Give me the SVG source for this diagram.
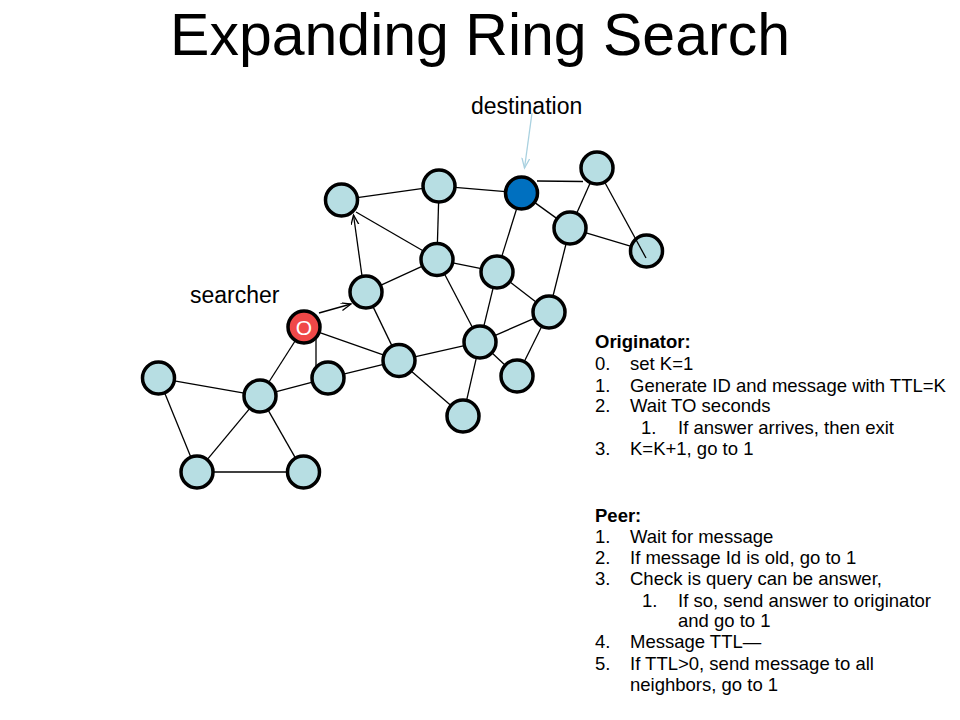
<svg xmlns="http://www.w3.org/2000/svg" width="960" height="720" viewBox="0 0 960 720">
<style>
  .node { fill: #b7dee3; stroke: #000; stroke-width: 3.5; }
  .dest { fill: #0070c0; stroke: #000; stroke-width: 3.5; }
  .src { fill: #f04848; stroke: #000; stroke-width: 3.5; }
  .edge { stroke: #000; stroke-width: 1.3; fill: none; }
  .arr { stroke: #000; stroke-width: 1.3; fill: none; marker-end: url(#open); }
  .darr { stroke: #a9d1e0; stroke-width: 1.3; fill: none; marker-end: url(#openBlue); }
  .t { font-family: "Liberation Sans", Arial, sans-serif; fill: #000; }
  .body { font-family: "Liberation Sans", Arial, sans-serif; font-size: 18.5px; fill: #000; }
  .b { font-weight: bold; }
</style>
<defs>
  <marker id="open" markerUnits="userSpaceOnUse" markerWidth="14" markerHeight="12" refX="10" refY="4" orient="auto">
    <path d="M0,0 L10,4 L0,8" fill="none" stroke="#000" stroke-width="1.3"/>
  </marker>
  <marker id="openBlue" markerUnits="userSpaceOnUse" markerWidth="14" markerHeight="12" refX="10" refY="4" orient="auto">
    <path d="M0,0 L10,4 L0,8" fill="none" stroke="#a9d1e0" stroke-width="1.3"/>
  </marker>
</defs>
<rect width="960" height="720" fill="#fff"/>

<text class="t" x="480" y="55" font-size="59" text-anchor="middle">Expanding Ring Search</text>
<text class="t" x="471" y="114" font-size="23">destination</text>
<text class="t" x="190" y="303" font-size="23">searcher</text>

<g id="nodes">
  <g id="n1"><circle class="node" cx="341.5" cy="200" r="16"/></g>
  <g id="n2"><circle class="node" cx="439" cy="186" r="16"/></g>
  <g id="n3"><circle class="dest" cx="521.5" cy="193" r="16"/></g>
  <g id="n4"><circle class="node" cx="597" cy="168" r="16"/></g>
  <g id="n5"><circle class="node" cx="570" cy="228" r="16"/></g>
  <g id="n6"><circle class="node" cx="646.5" cy="251" r="16"/></g>
  <g id="n7"><circle class="node" cx="437" cy="259.5" r="16"/></g>
  <g id="n8"><circle class="node" cx="497" cy="272" r="16"/></g>
  <g id="n9"><circle class="node" cx="366" cy="292" r="16"/></g>
  <g id="n10"><circle class="src" cx="304" cy="327" r="16"/><text class="t" x="304" y="335" font-size="21" text-anchor="middle" style="fill:#fff">O</text></g>
  <g id="n11"><circle class="node" cx="549" cy="312" r="16"/></g>
  <g id="n12"><circle class="node" cx="480" cy="342" r="16"/></g>
  <g id="n13"><circle class="node" cx="399" cy="360.5" r="16"/></g>
  <g id="n14"><circle class="node" cx="328" cy="378" r="16"/></g>
  <g id="n15"><circle class="node" cx="517" cy="376" r="16"/></g>
  <g id="n16"><circle class="node" cx="158.5" cy="378" r="16"/></g>
  <g id="n17"><circle class="node" cx="260" cy="396" r="16"/></g>
  <g id="n18"><circle class="node" cx="463" cy="416" r="16"/></g>
  <g id="n19"><circle class="node" cx="197" cy="472" r="16"/></g>
  <g id="n20"><circle class="node" cx="303.5" cy="472" r="16"/></g>
</g>

<g id="connectors">
  <line class="edge" x1="357.3" y1="197.7" x2="423.2" y2="188.3"/>
  <line class="edge" x1="454.9" y1="187.4" x2="505.6" y2="191.6"/>
  <line class="edge" x1="537" y1="181" x2="583" y2="181.5"/>
  <line class="edge" x1="534.5" y1="202.4" x2="557" y2="218.6"/>
  <line class="edge" x1="590.4" y1="182.6" x2="576.6" y2="213.4"/>
  <line class="edge" x1="604.6" y1="182" x2="646" y2="258"/>
  <line class="edge" x1="585.3" y1="232.6" x2="631.2" y2="246.4"/>
  <line class="edge" x1="566.1" y1="243.5" x2="552.9" y2="296.5"/>
  <line class="edge" x1="516.8" y1="208.3" x2="501.7" y2="256.7"/>
  <line class="edge" x1="438.6" y1="202" x2="437.4" y2="243.5"/>
  <line class="edge" x1="356" y1="212" x2="423.4" y2="251"/>
  <line class="arr" x1="362" y1="276" x2="353.5" y2="215"/>
  <line class="arr" x1="319" y1="313" x2="351" y2="304"/>
  <line class="edge" x1="380.5" y1="285.3" x2="422.5" y2="266.2"/>
  <line class="edge" x1="372.9" y1="306.4" x2="392.1" y2="346.1"/>
  <line class="edge" x1="452.7" y1="262.8" x2="481.3" y2="268.7"/>
  <line class="edge" x1="444.4" y1="273.7" x2="472.6" y2="327.8"/>
  <line class="edge" x1="493.2" y1="287.6" x2="483.8" y2="326.4"/>
  <line class="edge" x1="509.7" y1="281.8" x2="536.3" y2="302.2"/>
  <line class="edge" x1="414.6" y1="356.9" x2="464.4" y2="345.6"/>
  <line class="edge" x1="494.7" y1="335.6" x2="534.3" y2="318.4"/>
  <line class="edge" x1="541.8" y1="326.3" x2="524.2" y2="361.7"/>
  <line class="edge" x1="491.8" y1="352.8" x2="505.2" y2="365.2"/>
  <line class="edge" x1="476.4" y1="357.6" x2="466.6" y2="400.4"/>
  <line class="edge" x1="411.1" y1="371" x2="450.9" y2="405.5"/>
  <line class="edge" x1="319.1" y1="332.3" x2="383.9" y2="355.2"/>
  <line class="edge" x1="316" y1="337.6" x2="316" y2="367.4"/>
  <line class="edge" x1="343.5" y1="374.2" x2="383.5" y2="364.3"/>
  <line class="edge" x1="295.4" y1="340.5" x2="268.6" y2="382.5"/>
  <line class="edge" x1="275.5" y1="391.9" x2="312.5" y2="382.1"/>
  <line class="edge" x1="174.3" y1="380.8" x2="244.2" y2="393.2"/>
  <line class="edge" x1="164.6" y1="392.8" x2="190.9" y2="457.2"/>
  <line class="edge" x1="249.8" y1="408.3" x2="207.2" y2="459.7"/>
  <line class="edge" x1="268" y1="409.9" x2="295.5" y2="458.1"/>
  <line class="edge" x1="213" y1="472" x2="287.5" y2="472"/>
  <line class="darr" x1="532" y1="113" x2="524.5" y2="168"/>
</g>

<g id="originator" class="body">
  <text class="body b" x="595" y="348">Originator:</text>
  <text class="body" x="595" y="370">0.</text><text class="body" x="630" y="370">set K=1</text>
  <text class="body" x="595" y="391.5">1.</text><text class="body" x="630" y="391.5">Generate ID and message with TTL=K</text>
  <text class="body" x="595" y="412">2.</text><text class="body" x="630" y="412">Wait TO seconds</text>
  <text class="body" x="641" y="433.5">1.</text><text class="body" x="678" y="433.5">If answer arrives, then exit</text>
  <text class="body" x="595" y="455">3.</text><text class="body" x="630" y="455">K=K+1, go to 1</text>
</g>

<g id="peer">
  <text class="body b" x="595" y="521.5">Peer:</text>
  <text class="body" x="595" y="543">1.</text><text class="body" x="630" y="543">Wait for message</text>
  <text class="body" x="595" y="564">2.</text><text class="body" x="630" y="564">If message Id is old, go to 1</text>
  <text class="body" x="595" y="585">3.</text><text class="body" x="630" y="585">Check is query can be answer,</text>
  <text class="body" x="642" y="606.5">1.</text><text class="body" x="678" y="606.5">If so, send answer to originator</text>
  <text class="body" x="678" y="627">and go to 1</text>
  <text class="body" x="595" y="648">4.</text><text class="body" x="630" y="648">Message TTL—</text>
  <text class="body" x="595" y="669.5">5.</text><text class="body" x="630" y="669.5">If TTL&gt;0, send message to all</text>
  <text class="body" x="630" y="690.5">neighbors, go to 1</text>
</g>
</svg>
